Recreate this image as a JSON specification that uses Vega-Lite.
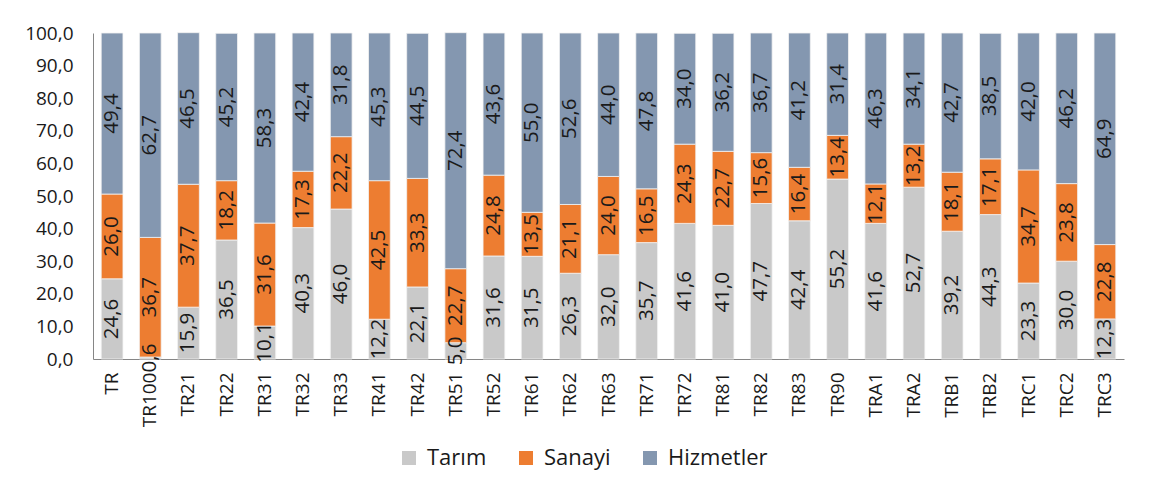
{
  "$schema": "https://vega.github.io/schema/vega-lite/v6.json",
  "width": 1031,
  "height": 326,
  "autosize": {"type": "none"},
  "padding": {"left": 93, "top": 33, "right": 27, "bottom": 140},
  "background": "white",
  "config": {
    "locale": {"number": {"decimal": ",", "thousands": ".", "grouping": [3], "currency": ["", ""]}},
    "view": {"stroke": null},
    "font": "Open Sans",
    "axis": {"domainColor": "#868686", "labelColor": "#1a1a1a", "labelFont": "Open Sans", "labelFontSize": 19, "ticks": false, "grid": false, "labelOverlap": false}
  },
  "data": {
    "values": [
      {"bolge": "TR", "Tarım": 24.6, "Sanayi": 26.0, "Hizmetler": 49.4},
      {"bolge": "TR100", "Tarım": 0.6, "Sanayi": 36.7, "Hizmetler": 62.7},
      {"bolge": "TR21", "Tarım": 15.9, "Sanayi": 37.7, "Hizmetler": 46.5},
      {"bolge": "TR22", "Tarım": 36.5, "Sanayi": 18.2, "Hizmetler": 45.2},
      {"bolge": "TR31", "Tarım": 10.1, "Sanayi": 31.6, "Hizmetler": 58.3},
      {"bolge": "TR32", "Tarım": 40.3, "Sanayi": 17.3, "Hizmetler": 42.4},
      {"bolge": "TR33", "Tarım": 46.0, "Sanayi": 22.2, "Hizmetler": 31.8},
      {"bolge": "TR41", "Tarım": 12.2, "Sanayi": 42.5, "Hizmetler": 45.3},
      {"bolge": "TR42", "Tarım": 22.1, "Sanayi": 33.3, "Hizmetler": 44.5},
      {"bolge": "TR51", "Tarım": 5.0, "Sanayi": 22.7, "Hizmetler": 72.4},
      {"bolge": "TR52", "Tarım": 31.6, "Sanayi": 24.8, "Hizmetler": 43.6},
      {"bolge": "TR61", "Tarım": 31.5, "Sanayi": 13.5, "Hizmetler": 55.0},
      {"bolge": "TR62", "Tarım": 26.3, "Sanayi": 21.1, "Hizmetler": 52.6},
      {"bolge": "TR63", "Tarım": 32.0, "Sanayi": 24.0, "Hizmetler": 44.0},
      {"bolge": "TR71", "Tarım": 35.7, "Sanayi": 16.5, "Hizmetler": 47.8},
      {"bolge": "TR72", "Tarım": 41.6, "Sanayi": 24.3, "Hizmetler": 34.0},
      {"bolge": "TR81", "Tarım": 41.0, "Sanayi": 22.7, "Hizmetler": 36.2},
      {"bolge": "TR82", "Tarım": 47.7, "Sanayi": 15.6, "Hizmetler": 36.7},
      {"bolge": "TR83", "Tarım": 42.4, "Sanayi": 16.4, "Hizmetler": 41.2},
      {"bolge": "TR90", "Tarım": 55.2, "Sanayi": 13.4, "Hizmetler": 31.4},
      {"bolge": "TRA1", "Tarım": 41.6, "Sanayi": 12.1, "Hizmetler": 46.3},
      {"bolge": "TRA2", "Tarım": 52.7, "Sanayi": 13.2, "Hizmetler": 34.1},
      {"bolge": "TRB1", "Tarım": 39.2, "Sanayi": 18.1, "Hizmetler": 42.7},
      {"bolge": "TRB2", "Tarım": 44.3, "Sanayi": 17.1, "Hizmetler": 38.5},
      {"bolge": "TRC1", "Tarım": 23.3, "Sanayi": 34.7, "Hizmetler": 42.0},
      {"bolge": "TRC2", "Tarım": 30.0, "Sanayi": 23.8, "Hizmetler": 46.2},
      {"bolge": "TRC3", "Tarım": 12.3, "Sanayi": 22.8, "Hizmetler": 64.9}
    ]
  },
  "transform": [
    {"fold": ["Tarım", "Sanayi", "Hizmetler"], "as": ["sektor", "deger"]},
    {"stack": "deger", "groupby": ["bolge"], "sort": [{"field": "sektor", "order": "descending"}], "as": ["y0", "y1"]},
    {"calculate": "(datum.y0 + datum.y1) / 2", "as": "orta"}
  ],
  "encoding": {
    "x": {
      "field": "bolge",
      "type": "nominal",
      "sort": null,
      "title": null,
      "scale": {"paddingInner": 0.43, "paddingOuter": 0.215},
      "axis": {"labelAngle": -90, "labelPadding": 13}
    }
  },
  "layer": [
    {
      "mark": {"type": "bar", "stroke": "#f2f2f2", "strokeWidth": 0.8},
      "encoding": {
        "y": {
          "field": "y0",
          "type": "quantitative",
          "title": null,
          "scale": {"domain": [0, 100], "nice": false},
          "axis": {"values": [0, 10, 20, 30, 40, 50, 60, 70, 80, 90, 100], "format": ".1f", "labelPadding": 20, "labelOverlap": false}
        },
        "y2": {"field": "y1"},
        "color": {
          "field": "sektor",
          "type": "nominal",
          "scale": {"domain": ["Tarım", "Sanayi", "Hizmetler"], "range": ["#C9C9C9", "#ED7D31", "#8497B0"]},
          "legend": {
            "title": null,
            "orient": "none",
            "legendX": 305,
            "legendY": 414,
            "direction": "horizontal",
            "symbolType": "square",
            "symbolSize": 196,
            "symbolStrokeWidth": 0,
            "symbolOpacity": 1,
            "labelFont": "Open Sans",
            "labelFontSize": 22,
            "labelColor": "#1a1a1a",
            "labelOffset": 7,
            "columnPadding": 28,
            "padding": 0
          }
        }
      }
    },
    {
      "mark": {"type": "text", "angle": 270, "fontSize": 20.5, "font": "Open Sans", "color": "#1a1a1a", "align": "center", "baseline": "middle"},
      "encoding": {
        "y": {
          "field": "orta",
          "type": "quantitative",
          "title": null,
          "axis": {"values": [0, 10, 20, 30, 40, 50, 60, 70, 80, 90, 100], "format": ".1f", "labelPadding": 20, "labelOverlap": false}
        },
        "text": {"field": "deger", "type": "quantitative", "format": ".1f"}
      }
    }
  ]
}
